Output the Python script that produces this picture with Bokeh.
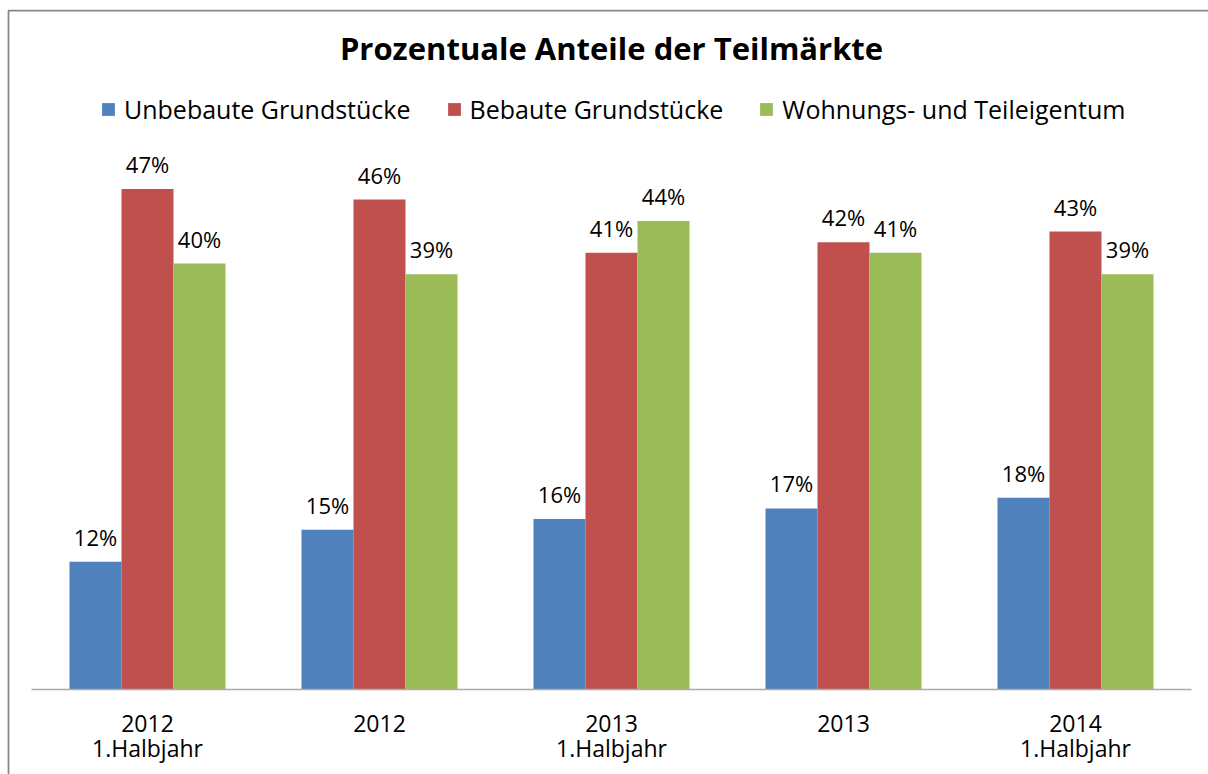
from bokeh.plotting import figure
from bokeh.models import Range1d, FixedTicker, Legend, LegendItem, ColumnDataSource
from bokeh.transform import dodge
from bokeh.core.properties import value
from bokeh.embed import file_html
from bokeh.resources import INLINE

# ---- data ----
categories = ["2012\n1.Halbjahr", "2012", "2013\n1.Halbjahr", "2013", "2014\n1.Halbjahr"]
series = ["Unbebaute Grundstücke", "Bebaute Grundstücke", "Wohnungs- und Teileigentum"]
unbebaute = [12, 15, 16, 17, 18]
bebaute = [47, 46, 41, 42, 43]
wohnungs = [40, 39, 44, 41, 39]
colors = ["#4F81BD", "#C0504D", "#9BBB59"]
chart_title = "Prozentuale Anteile der Teilmärkte"

# ---- layout constants ----
W, H = 1208, 774
CAT_PX = 232.0          # pixels per category
PX = 10.65              # pixels per percent
BASE_Y = 689.0          # pixel row of the zero line
X0 = -147.0 / CAT_PX    # left edge of canvas in data units
Y1 = BASE_Y / PX        # top of canvas
Y0 = -(H - BASE_Y) / PX # bottom of canvas
BAR_W = 52.0 / CAT_PX
FONT = "Open Sans"

xs = list(range(len(categories)))
src = ColumnDataSource(dict(
    x=xs,
    s0=unbebaute, s1=bebaute, s2=wohnungs,
    l0=[f"{v}%" for v in unbebaute],
    l1=[f"{v}%" for v in bebaute],
    l2=[f"{v}%" for v in wohnungs],
))

p = figure(width=W, height=H, output_backend="svg", toolbar_location=None,
           x_range=Range1d(X0, X0 + W / CAT_PX), y_range=Range1d(Y0, Y1),
           y_axis_location=None, min_border=0,
           min_border_left=0, min_border_right=0, min_border_top=0, min_border_bottom=0)
p.background_fill_color = "white"
p.border_fill_color = "white"
p.outline_line_color = None
p.xgrid.visible = False
p.ygrid.visible = False

# x axis placed at y=0 inside the frame
ax = p.xaxis[0]
ax.fixed_location = 0
ax.bounds = (-0.5, len(categories) - 0.5)
ax.ticker = FixedTicker(ticks=xs)
ax.major_label_overrides = {i: c for i, c in enumerate(categories)}
ax.axis_line_color = "#ABABAB"
ax.axis_line_width = 1.5
ax.major_tick_line_color = None
ax.minor_tick_line_color = None
ax.major_label_standoff = 11
ax.major_label_text_font = FONT
ax.major_label_text_font_size = "23px"
ax.major_label_text_color = "#000000"
ax.major_label_text_line_height = 0.8

offsets = [-BAR_W, 0.0, BAR_W]
renderers = []
for i in range(3):
    r = p.vbar(x=dodge("x", offsets[i], range=p.x_range), top=f"s{i}", width=BAR_W,
               bottom=0, source=src, fill_color=colors[i], line_color=None)
    renderers.append(r)
    p.text(x=dodge("x", offsets[i], range=p.x_range), y=f"s{i}", text=f"l{i}", source=src,
           y_offset=-25, text_align="center", text_baseline="alphabetic",
           text_font=value(FONT), text_font_size="22px", text_color="#000000")

# title
p.text(x=[(len(categories) - 1) / 2], y=[(BASE_Y - 47.0) / PX], text=[chart_title],
       text_align="center", text_baseline="alphabetic", text_font=value(FONT),
       text_font_size="31px", text_font_style="bold", text_color="#000000")

# chart border (top and left visible)
bx = X0 + 8.0 / CAT_PX
by = Y1 - 10.2 / PX
p.line(x=[bx, bx, X0 + (W + 20) / CAT_PX], y=[Y0 - 5, by, by],
       line_color="#868686", line_width=1.75)

legend = Legend(items=[LegendItem(label=series[i], renderers=[renderers[i]]) for i in range(3)],
                orientation="horizontal", location=(100, 648),
                glyph_width=16, glyph_height=16, label_standoff=8, spacing=35,
                padding=0, margin=0, border_line_color=None, background_fill_alpha=0,
                label_text_font=FONT, label_text_font_size="25px", label_text_color="#000000",
                label_height=16)
p.add_layout(legend)

open("out.html", "w").write(file_html(p, INLINE))
